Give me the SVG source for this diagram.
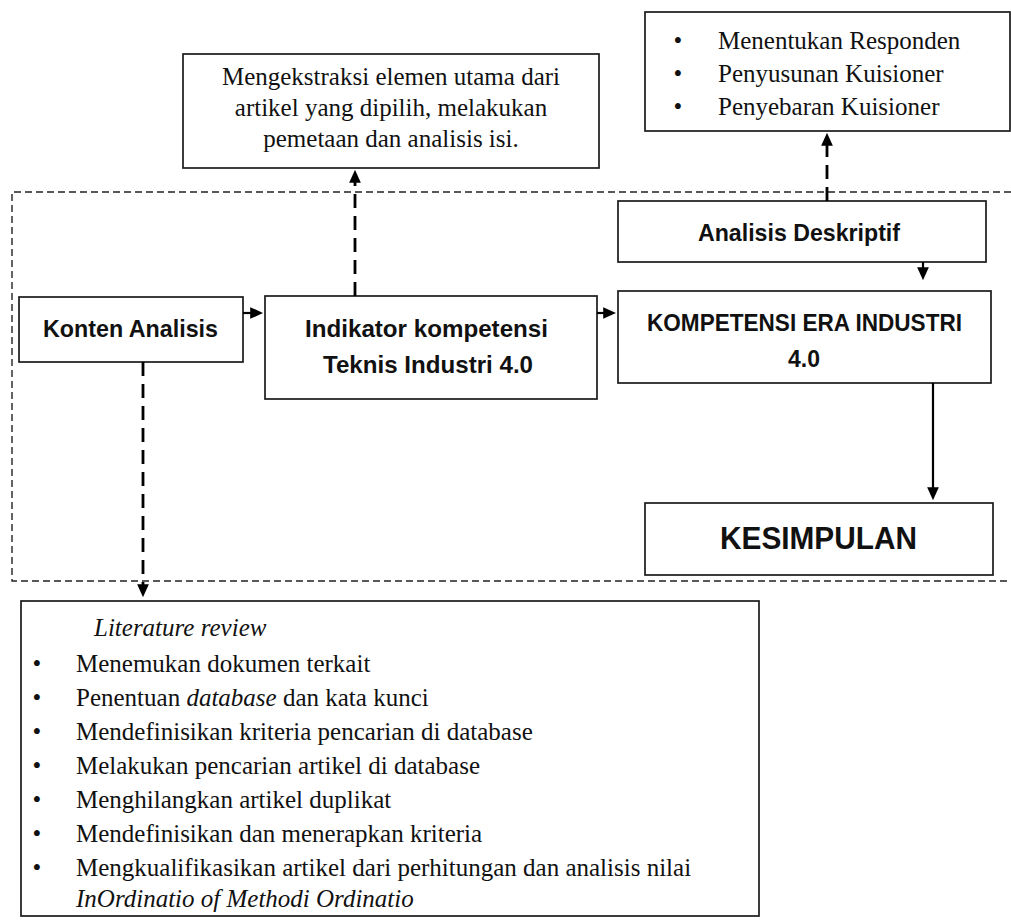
<svg xmlns="http://www.w3.org/2000/svg" width="1011" height="923" viewBox="0 0 1011 923">
  <style>
    .box { fill: #fff; stroke: #1a1a1a; stroke-width: 1.7; }
    .serif { font-family: "Liberation Serif", "Times New Roman", serif; font-size: 25px; fill: #111; }
    .sans { font-family: "Liberation Sans", Arial, sans-serif; font-weight: bold; font-size: 24px; fill: #111; }
    .solid { stroke: #000; stroke-width: 2.2; fill: none; }
    .dash { stroke: #000; stroke-width: 2.8; fill: none; stroke-dasharray: 14 8; }
    .frame { stroke: #222; stroke-width: 1.4; fill: none; stroke-dasharray: 7 4; }
  </style>
  <defs>
    <marker id="ah" viewBox="0 0 10 10" refX="6" refY="5" markerWidth="13" markerHeight="13" markerUnits="userSpaceOnUse" orient="auto">
      <path d="M0,0.5 L10,5 L0,9.5 z" fill="#000"/>
    </marker>
  </defs>
  <rect width="1011" height="923" fill="#fff"/>

  <g id="frame">
    <path class="frame" d="M1011,192 H12 V581 H1011"/>
  </g>

  <g id="responden">
    <rect class="box" x="645" y="12" width="365" height="119"/>
    <text class="serif" x="678" y="49" text-anchor="middle">•</text>
    <text class="serif" x="718" y="49">Menentukan Responden</text>
    <text class="serif" x="678" y="82" text-anchor="middle">•</text>
    <text class="serif" x="718" y="82">Penyusunan Kuisioner</text>
    <text class="serif" x="678" y="115" text-anchor="middle">•</text>
    <text class="serif" x="718" y="115">Penyebaran Kuisioner</text>
  </g>

  <g id="ekstraksi">
    <rect class="box" x="183" y="54" width="416" height="114"/>
    <text class="serif" x="391" y="85" text-anchor="middle">Mengekstraksi elemen utama dari</text>
    <text class="serif" x="391" y="116" text-anchor="middle">artikel yang dipilih, melakukan</text>
    <text class="serif" x="391" y="147" text-anchor="middle">pemetaan dan analisis isi.</text>
  </g>

  <g id="konten">
    <rect class="box" x="19" y="297" width="224" height="65"/>
    <text class="sans" x="43" y="337" textLength="175" lengthAdjust="spacingAndGlyphs">Konten Analisis</text>
  </g>

  <g id="indikator">
    <rect class="box" x="265" y="296" width="332" height="103"/>
    <text class="sans" x="305" y="337" textLength="243" lengthAdjust="spacingAndGlyphs">Indikator kompetensi</text>
    <text class="sans" x="323" y="373" textLength="210" lengthAdjust="spacingAndGlyphs">Teknis Industri 4.0</text>
  </g>

  <g id="deskriptif">
    <rect class="box" x="618" y="201" width="368" height="61"/>
    <text class="sans" x="698" y="241" textLength="202" lengthAdjust="spacingAndGlyphs">Analisis Deskriptif</text>
  </g>

  <g id="kompetensi">
    <rect class="box" x="618" y="291" width="373" height="92"/>
    <text class="sans" x="647" y="331" textLength="315" lengthAdjust="spacingAndGlyphs">KOMPETENSI  ERA INDUSTRI</text>
    <text class="sans" x="788" y="367" textLength="32" lengthAdjust="spacingAndGlyphs">4.0</text>
  </g>

  <g id="kesimpulan">
    <rect class="box" x="645" y="503" width="348" height="72"/>
    <text class="sans" x="720" y="549" style="font-size:31px" textLength="197" lengthAdjust="spacingAndGlyphs">KESIMPULAN</text>
  </g>

  <g id="literature">
    <rect class="box" x="21" y="601" width="738" height="315"/>
    <text class="serif" x="94" y="636" font-style="italic">Literature review</text>
    <text class="serif" x="37" y="672" text-anchor="middle">•</text>
    <text class="serif" x="76" y="672">Menemukan dokumen terkait</text>
    <text class="serif" x="37" y="706" text-anchor="middle">•</text>
    <text class="serif" x="76" y="706">Penentuan <tspan font-style="italic">database</tspan> dan kata kunci</text>
    <text class="serif" x="37" y="740" text-anchor="middle">•</text>
    <text class="serif" x="76" y="740">Mendefinisikan kriteria pencarian di database</text>
    <text class="serif" x="37" y="774" text-anchor="middle">•</text>
    <text class="serif" x="76" y="774">Melakukan pencarian artikel di database</text>
    <text class="serif" x="37" y="808" text-anchor="middle">•</text>
    <text class="serif" x="76" y="808">Menghilangkan artikel duplikat</text>
    <text class="serif" x="37" y="842" text-anchor="middle">•</text>
    <text class="serif" x="76" y="842">Mendefinisikan dan menerapkan kriteria</text>
    <text class="serif" x="37" y="876" text-anchor="middle">•</text>
    <text class="serif" x="76" y="876">Mengkualifikasikan artikel dari perhitungan dan analisis nilai</text>
    <text class="serif" x="76" y="907" font-style="italic">InOrdinatio of Methodi Ordinatio</text>
  </g>

  <g id="connectors">
    <path class="solid" d="M243,313 H258" marker-end="url(#ah)"/>
    <path class="solid" d="M597,313 H611" marker-end="url(#ah)"/>
    <path class="solid" d="M923,262 V275" marker-end="url(#ah)"/>
    <path class="solid" d="M933,383 V495" marker-end="url(#ah)"/>
    <path class="dash" d="M355,296 V175" marker-end="url(#ah)"/>
    <path class="dash" d="M827,201 V138" marker-end="url(#ah)"/>
    <path class="dash" d="M143,362 V592" marker-end="url(#ah)"/>
  </g>
</svg>
